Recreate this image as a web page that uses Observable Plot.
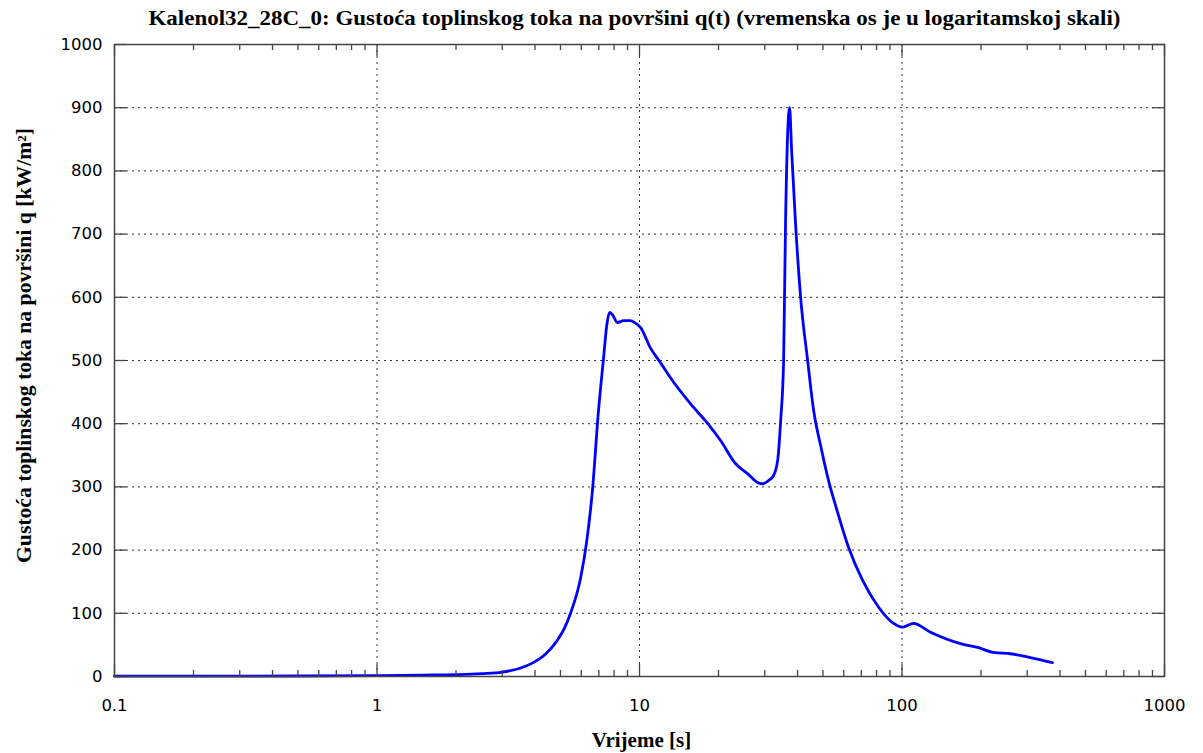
<!DOCTYPE html>
<html>
<head>
<meta charset="utf-8">
<script src="https://cdn.jsdelivr.net/npm/d3@7"></script>
<script src="https://cdn.jsdelivr.net/npm/@observablehq/plot@0.6"></script>
<style>
  html, body { margin: 0; padding: 0; background: #fff; }
</style>
</head>
<body>
<div id="chart"></div>
<script>
const titleText = "Kalenol32_28C_0: Gustoća toplinskog toka na površini q(t) (vremenska os je u logaritamskoj skali)";
const xLabelText = "Vrijeme [s]";
const yLabelText = "Gustoća toplinskog toka na površini q [kW/m²]";

const xTicks = [0.1, 1, 10, 100, 1000];
const xTickLabels = ["0.1", "1", "10", "100", "1000"];
const yTicks = [0, 100, 200, 300, 400, 500, 600, 700, 800, 900, 1000];

// time [s]
const times = [0.1, 0.2, 0.5, 1, 1.5, 2, 2.5, 3, 3.5, 3.94, 4.4, 4.8, 5.2, 5.46, 5.96, 6.3, 6.62, 6.98, 7.3, 7.5, 7.69, 7.9, 8.24, 8.7, 9.2, 9.6, 10.1, 11.0, 12.0, 13.1, 15.6, 18.3, 20.4, 23.2, 25.8, 28.5, 29.6, 31.0, 32.4, 33.6, 34.5, 35.4, 36.0, 37.3, 38.0, 39.3, 41.1, 43.7, 46.1, 49.0, 52.5, 55.9, 62.5, 70.8, 80.7, 92.9, 100.5, 110.6, 128.4, 167, 194, 223, 259, 309, 374];
// heat flux q [kW/m²]
const flux = [0.5, 0.5, 0.8, 1.5, 2.2, 3, 4.5, 7, 13, 22, 36, 54, 78, 100, 155, 215, 295, 421, 505, 555, 576, 572, 560, 563, 563, 560, 552, 520, 497, 473, 432, 399, 373, 337, 321, 306, 305, 310, 318, 342, 405, 500, 717, 900, 830, 717, 600, 500, 420, 365, 310, 270, 205, 152, 112, 84, 78, 84, 70, 52, 46, 38, 36, 30, 22];

const data = times.map((t, i) => ({t, q: flux[i]}));

const minorX = [];
for (const dec of [0.1, 1, 10, 100]) for (let k = 2; k <= 9; k++) minorX.push(+(dec * k).toPrecision(3));

const frameW = 1203 - 114 - 39;
const frameH = 753 - 44 - 77;
const tickColor = "#444";

const chart = Plot.plot({
  width: 1203,
  height: 753,
  marginTop: 44,
  marginLeft: 114,
  marginRight: 39,
  marginBottom: 77,
  style: {fontFamily: "'DejaVu Sans', Verdana, sans-serif", fontSize: "16.5px", background: "#fff", color: "#000"},
  x: {type: "log", domain: [0.1, 1000]},
  y: {domain: [0, 1000]},
  marks: [
    Plot.gridX(xTicks.slice(1, -1), {stroke: "#333", strokeOpacity: 1, strokeWidth: 1, strokeDasharray: "2,4"}),
    Plot.gridY(yTicks.slice(1, -1), {stroke: "#333", strokeOpacity: 1, strokeWidth: 1, strokeDasharray: "2,4"}),
    Plot.line(data, {x: "t", y: "q", stroke: "#0000ff", strokeWidth: 2.8, curve: "monotone-x"}),
    // major x ticks, bottom and top (inward)
    Plot.tickX(xTicks, {x: d => d, insetTop: frameH - 12, stroke: tickColor, strokeWidth: 1.3}),
    Plot.tickX(xTicks, {x: d => d, insetBottom: frameH - 12, stroke: tickColor, strokeWidth: 1.3}),
    // minor x ticks
    Plot.tickX(minorX, {x: d => d, insetTop: frameH - 6, stroke: tickColor, strokeWidth: 1.3}),
    Plot.tickX(minorX, {x: d => d, insetBottom: frameH - 6, stroke: tickColor, strokeWidth: 1.3}),
    // y ticks left and right
    Plot.tickY(yTicks, {y: d => d, insetRight: frameW - 12, stroke: tickColor, strokeWidth: 1.3}),
    Plot.tickY(yTicks, {y: d => d, insetLeft: frameW - 12, stroke: tickColor, strokeWidth: 1.3}),
    Plot.axisX(xTicks, {tickSize: 0, tickPadding: 23, tickFormat: d => xTickLabels[xTicks.indexOf(d)], label: null, fill: "#000"}),
    Plot.axisY(yTicks, {tickSize: 0, tickPadding: 12, tickFormat: d => String(d), label: null, fill: "#000"}),
    Plot.frame({stroke: tickColor, strokeWidth: 1.5}),
    Plot.text([titleText], {frameAnchor: "top", dx: -5, dy: -27, lineAnchor: "middle", textAnchor: "middle",
      fontFamily: "'Liberation Serif', 'Times New Roman', serif", fontWeight: "bold", fontSize: 22, fill: "#000"}),
    Plot.text([xLabelText], {frameAnchor: "bottom", dx: 2, dy: 64, lineAnchor: "middle", textAnchor: "middle",
      fontFamily: "'Liberation Serif', 'Times New Roman', serif", fontWeight: "bold", fontSize: 21, fill: "#000"}),
    Plot.text([yLabelText], {frameAnchor: "left", dx: -90, dy: -15, rotate: -90, lineAnchor: "middle", textAnchor: "middle",
      fontFamily: "'Liberation Serif', 'Times New Roman', serif", fontWeight: "bold", fontSize: 20, fill: "#000"})
  ]
});

document.getElementById("chart").appendChild(chart);

// fit title / y-label widths to the reference
const texts = chart.querySelectorAll("text");
texts.forEach(t => {
  if (t.textContent === titleText) { t.setAttribute("textLength", 972); t.setAttribute("lengthAdjust", "spacingAndGlyphs"); }
  if (t.textContent === yLabelText) { t.setAttribute("textLength", 435); t.setAttribute("lengthAdjust", "spacingAndGlyphs"); }
});
</script>
</body>
</html>
